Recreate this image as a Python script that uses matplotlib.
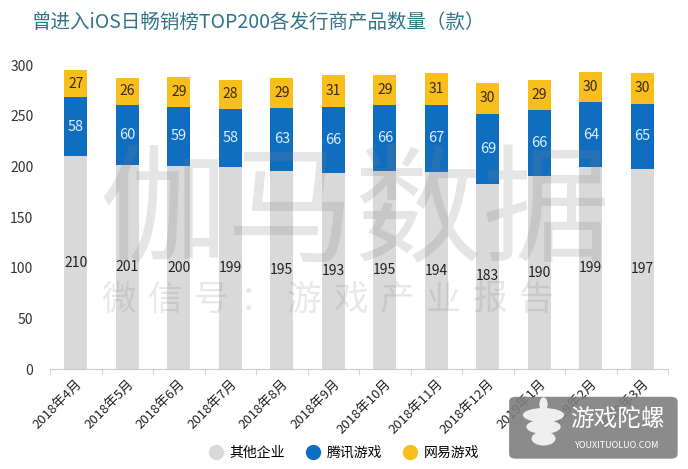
import numpy as np
import matplotlib.pyplot as plt
from matplotlib.patches import FancyBboxPatch, Ellipse
from matplotlib.lines import Line2D

plt.rcParams['font.family'] = ['Noto Sans CJK SC', 'DejaVu Sans']

# data
months = ['2018年4月', '2018年5月', '2018年6月', '2018年7月', '2018年8月', '2018年9月',
          '2018年10月', '2018年11月', '2018年12月', '2019年1月', '2019年2月', '2019年3月']
others = [210, 201, 200, 199, 195, 193, 195, 194, 183, 190, 199, 197]
tencent = [58, 60, 59, 58, 63, 66, 66, 67, 69, 66, 64, 65]
netease = [27, 26, 29, 28, 29, 31, 29, 31, 30, 29, 30, 30]
series_names = ['其他企业', '腾讯游戏', '网易游戏']
yticks = [0, 50, 100, 150, 200, 250, 300]

c_gray = '#D9D9D9'
c_blue = '#0F6EC0'
c_yellow = '#F7BE1C'

fig = plt.figure(figsize=(6.88, 4.69), dpi=100)
ax = fig.add_axes([0.0727, 0.2132, 0.8983, 0.6482])

x = np.arange(len(months))
w = 0.45
others = np.array(others)
tencent = np.array(tencent)
netease = np.array(netease)

ax.bar(x, others, w, color=c_gray, zorder=2)
ax.bar(x, tencent, w, bottom=others, color=c_blue, zorder=2)
ax.bar(x, netease, w, bottom=others + tencent, color=c_yellow, zorder=2)

for i in range(len(months)):
    ax.text(x[i], others[i] / 2, str(others[i]), ha='center', va='center',
            fontsize=10, color='#222222', zorder=4)
    ax.text(x[i], others[i] + tencent[i] / 2, str(tencent[i]), ha='center', va='center',
            fontsize=10.5, color='#DDEEFF', zorder=4)
    ax.text(x[i], others[i] + tencent[i] + netease[i] / 2, str(netease[i]), ha='center',
            va='center', fontsize=10, color='#3A2A10', zorder=4)

ax.set_xlim(-0.5, len(months) - 0.5)
ax.set_ylim(0, 300)
ax.set_yticks(yticks)
ax.tick_params(axis='y', length=0, labelsize=10, colors='#333333', pad=12)
ax.set_xticks(x)
ax.set_xticklabels(months, rotation=45, ha='right', rotation_mode='anchor',
                   fontsize=9.5, color='#222222')
ax.tick_params(axis='x', length=0, pad=6)
ax.set_xticks(np.arange(-0.5, len(months)), minor=True)
ax.tick_params(axis='x', which='minor', length=4, color='#CCCCCC')
for s in ['top', 'right', 'left']:
    ax.spines[s].set_visible(False)
ax.spines['bottom'].set_color('#CCCCCC')

# watermark
fig.text(0.515, 0.54, '伽马数据', fontsize=92, color='#808080', alpha=0.2,
         ha='center', va='center', zorder=5)
wm = '微信号：游戏产业报告'
for k, ch in enumerate(wm):
    fig.text(0.172 + k * 0.0675, 0.36, ch, fontsize=25, color='#808080',
             alpha=0.18, ha='center', va='center', zorder=5)

fig.suptitle('曾进入iOS日畅销榜TOP200各发行商产品数量（款）', x=0.375, y=0.975,
             fontsize=14, color='#2F7589')

handles = [Line2D([], [], ls='none', marker='o', markersize=10, color=c)
           for c in [c_gray, c_blue, c_yellow]]
fig.legend(handles, series_names, loc='center', bbox_to_anchor=(0.5, 0.035), ncol=3,
           frameon=False, fontsize=10, handlelength=1.0, columnspacing=1.5,
           handletextpad=0.5)

# logo box bottom right
box = FancyBboxPatch((0.74, 0.022), 0.245, 0.132, boxstyle='round,pad=0,rounding_size=0.01',
                     transform=fig.transFigure, facecolor='#7F7F7F', edgecolor='none',
                     alpha=0.9, zorder=6)
fig.patches.append(box)
for ey, ew in [(0.115, 0.06), (0.09, 0.05), (0.065, 0.035)]:
    fig.patches.append(Ellipse((0.79, ey), ew, 0.03, transform=fig.transFigure,
                               facecolor='#EEEEEE', edgecolor='none', zorder=7))
fig.patches.append(Ellipse((0.79, 0.138), 0.012, 0.03, transform=fig.transFigure,
                           facecolor='#EEEEEE', edgecolor='none', zorder=7))
fig.text(0.897, 0.105, '游戏陀螺', fontsize=17, color='white', ha='center', va='center',
         zorder=7)
fig.text(0.897, 0.05, 'YOUXITUOLUO.COM', fontsize=6.5, color='white', ha='center',
         va='center', zorder=7)

fig.savefig('out.png', dpi=100)
